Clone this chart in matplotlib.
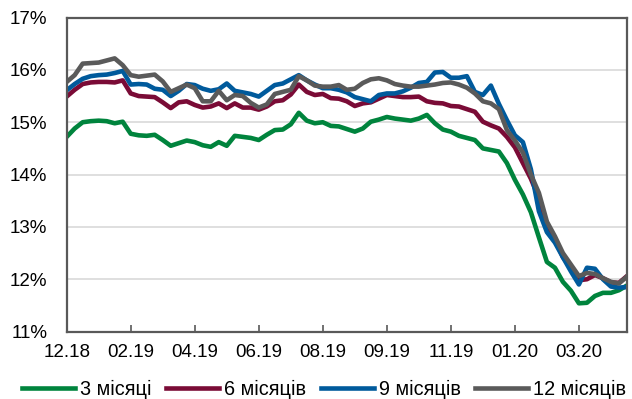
import numpy as np
import matplotlib
matplotlib.use("Agg")
import matplotlib.pyplot as plt
from matplotlib.ticker import FuncFormatter

plt.rcParams['font.family'] = ['Liberation Sans', 'DejaVu Sans']

# daily average rates by term, %, sampled along the period
tick_labels = ['12.18', '02.19', '04.19', '06.19', '08.19', '09.19', '11.19', '01.20', '03.20']
series_names = ['3 місяці', '6 місяців', '9 місяців', '12 місяців']

rate_3m = [14.72, 14.88, 15.00, 15.02, 15.03, 15.02, 14.98, 15.01, 14.78, 14.75,
           14.74, 14.76, 14.66, 14.55, 14.60, 14.65, 14.62, 14.56, 14.53, 14.62,
           14.55, 14.74, 14.72, 14.70, 14.66, 14.76, 14.85, 14.86, 14.96, 15.18,
           15.03, 14.98, 15.00, 14.93, 14.92, 14.87, 14.82, 14.88, 15.01, 15.05,
           15.10, 15.07, 15.05, 15.03, 15.07, 15.14, 14.98, 14.86, 14.82, 14.74,
           14.70, 14.66, 14.50, 14.47, 14.44, 14.22, 13.90, 13.62, 13.28, 12.80,
           12.33, 12.22, 11.95, 11.78, 11.54, 11.55, 11.68, 11.74, 11.74, 11.79,
           11.88]
rate_6m = [15.49, 15.62, 15.73, 15.76, 15.77, 15.77, 15.76, 15.80, 15.55, 15.50,
           15.49, 15.48, 15.38, 15.27, 15.38, 15.40, 15.33, 15.28, 15.30, 15.36,
           15.27, 15.36, 15.28, 15.28, 15.24, 15.30, 15.40, 15.42, 15.53, 15.72,
           15.58, 15.52, 15.54, 15.46, 15.45, 15.40, 15.31, 15.36, 15.38, 15.45,
           15.52, 15.50, 15.48, 15.48, 15.49, 15.40, 15.37, 15.36, 15.31, 15.30,
           15.25, 15.20, 15.01, 14.94, 14.88, 14.72, 14.52, 14.22, 13.92, 13.55,
           13.05, 12.78, 12.42, 12.22, 11.98, 12.00, 12.08, 12.02, 11.94, 11.93,
           12.06]
rate_9m = [15.61, 15.73, 15.83, 15.88, 15.90, 15.91, 15.94, 15.98, 15.72, 15.73,
           15.72, 15.64, 15.62, 15.50, 15.60, 15.73, 15.71, 15.64, 15.60, 15.63,
           15.74, 15.60, 15.57, 15.54, 15.49, 15.60, 15.71, 15.74, 15.82, 15.90,
           15.80, 15.72, 15.65, 15.65, 15.62, 15.57, 15.48, 15.44, 15.40, 15.52,
           15.55, 15.55, 15.59, 15.66, 15.75, 15.77, 15.95, 15.96, 15.85, 15.85,
           15.88, 15.58, 15.52, 15.70, 15.35, 15.04, 14.75, 14.62, 14.10, 13.30,
           12.90, 12.70, 12.42, 12.15, 11.90, 12.22, 12.20, 12.00, 11.86, 11.84,
           11.85]
rate_12m = [15.77, 15.90, 16.12, 16.13, 16.14, 16.18, 16.22, 16.09, 15.90, 15.87,
            15.89, 15.91, 15.78, 15.58, 15.65, 15.72, 15.65, 15.40, 15.40, 15.60,
            15.42, 15.52, 15.50, 15.37, 15.28, 15.34, 15.54, 15.58, 15.62, 15.88,
            15.80, 15.70, 15.68, 15.68, 15.71, 15.62, 15.64, 15.75, 15.82, 15.84,
            15.80, 15.73, 15.70, 15.68, 15.68, 15.70, 15.72, 15.75, 15.76, 15.72,
            15.66, 15.55, 15.40, 15.36, 15.25, 14.85, 14.65, 14.42, 14.00, 13.65,
            13.10, 12.82, 12.50, 12.28, 12.06, 12.12, 12.10, 12.02, 11.95, 11.92,
            12.05]

colors = ['#00843D', '#7A0B36', '#005A9C', '#5A5A5A']
step = 8  # samples between labelled ticks

fig = plt.figure(figsize=(6.32, 3.99), dpi=100)
ax = fig.add_axes([0.1055, 0.169, 0.8865, 0.787])

x = np.arange(len(rate_3m))
for vals, name, c in zip([rate_3m, rate_6m, rate_9m, rate_12m], series_names, colors):
    ax.plot(x, vals, color=c, lw=3.3, label=name, solid_joinstyle='round')

ax.set_xlim(0, len(x) - 1)
ax.set_ylim(11, 17)
ax.set_xticks(np.arange(len(tick_labels)) * step)
ax.set_xticklabels(tick_labels)
ax.set_yticks(np.arange(11, 18))
ax.yaxis.set_major_formatter(FuncFormatter(lambda v, p: '%d%%' % v))
ax.grid(axis='y', color='#D9D9D9', lw=1.2)
ax.set_axisbelow(True)

for s in ax.spines.values():
    s.set_color('#595959')
    s.set_linewidth(1.6)
ax.tick_params(axis='both', direction='in', length=5, width=1.2, color='#595959',
               labelsize=13.5, labelcolor='black')
ax.tick_params(axis='y', pad=14, length=0)
ax.tick_params(axis='x', pad=9)

fig.legend(loc='center', bbox_to_anchor=(0.513, 0.024), ncol=4, frameon=False,
           fontsize=14.3, handlelength=2.65, handletextpad=0.25, columnspacing=0.75,
           borderpad=0, borderaxespad=0)

fig.savefig('out.png', dpi=100)
